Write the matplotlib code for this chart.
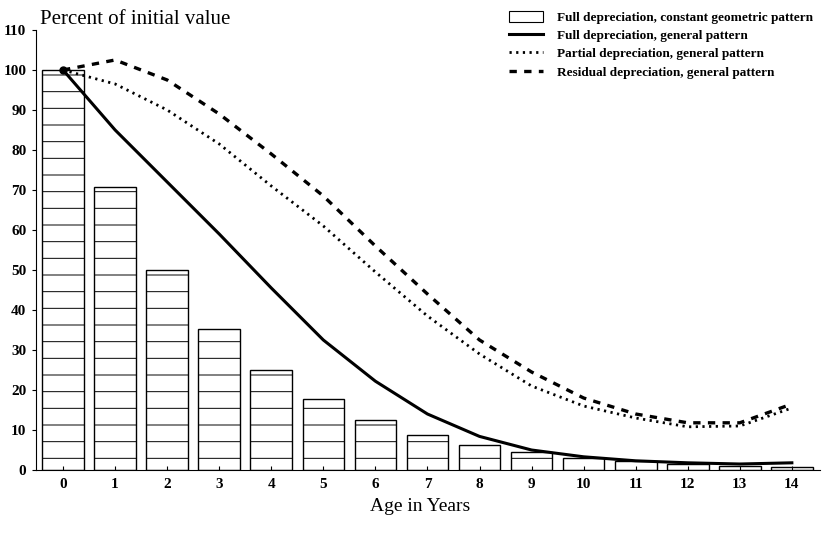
#!/usr/bin/env python3
"""Depreciation patterns: percent of initial value by age."""

import matplotlib.pyplot as plt
from matplotlib.lines import Line2D
import matplotlib.patches as mpatches

plt.rcParams["font.family"] = ["Liberation Serif", "DejaVu Serif"]
plt.rcParams["hatch.linewidth"] = 0.7

ages = list(range(15))

# Full depreciation, constant geometric pattern (bars)
geometric = [100, 70.7, 50, 35.3, 25, 17.7, 12.5, 8.8, 6.25, 4.4,
             3.1, 2.2, 1.56, 1.1, 0.78]

# Full depreciation, general pattern
full_general = [100, 85, 72, 59, 45.5, 32.5, 22.2, 14, 8.4, 5,
                3.3, 2.3, 1.8, 1.5, 1.8]

# Partial depreciation, general pattern
partial_general = [100, 96.5, 90, 81.5, 71, 61, 49.5, 38.5, 29, 21,
                   16, 13, 10.8, 11, 15.5]

# Residual depreciation, general pattern
residual_general = [100, 102.5, 97.5, 89, 79, 68.5, 56, 44, 32.5, 24.5,
                    18, 14, 11.8, 11.8, 16.5]

fig = plt.figure(figsize=(8.27, 5.45), dpi=100)
ax = fig.add_axes([0.0435, 0.1376, 0.948, 0.8074])

ax.bar(ages, geometric, width=0.8, facecolor="white", edgecolor="black",
       linewidth=1.0, hatch="-", zorder=1)

ax.plot(ages, full_general, color="black", linewidth=2.2, zorder=3)
ax.plot(ages, partial_general, color="black", linewidth=2.0,
        linestyle=(0, (0.8, 1.6)), zorder=3)
ax.plot(ages, residual_general, color="black", linewidth=2.4,
        linestyle=(0, (2.2, 2.2)), zorder=3)
ax.plot([0], [100], "o", color="black", markersize=5, zorder=4)

ax.set_xlim(-0.52, 14.54)
ax.set_ylim(0, 110)
ax.set_xticks(ages)
ax.set_yticks(range(0, 111, 10))
ax.spines["top"].set_visible(False)
ax.spines["right"].set_visible(False)
ax.tick_params(axis="x", direction="in", length=3, labelsize=11, pad=6)
ax.tick_params(axis="y", direction="out", length=3, labelsize=11, pad=4)
for lbl in ax.get_xticklabels() + ax.get_yticklabels():
    lbl.set_fontweight("bold")

fig.text(0.048, 0.965, "Percent of initial value", fontsize=15,
         va="center", ha="left")
fig.text(0.508, 0.07, "Age in Years", fontsize=14, va="center", ha="center")

handles = [
    mpatches.Patch(facecolor="white", edgecolor="black", linewidth=0.8),
    Line2D([], [], color="black", linewidth=2.2),
    Line2D([], [], color="black", linewidth=2.0, linestyle=(0, (0.8, 1.6))),
    Line2D([], [], color="black", linewidth=2.4, linestyle=(0, (2.2, 2.2))),
]
labels = [
    "Full depreciation, constant geometric pattern",
    "Full depreciation, general pattern",
    "Partial depreciation, general pattern",
    "Residual depreciation, general pattern",
]
fig.legend(handles, labels, loc="upper right", bbox_to_anchor=(0.997, 1.002),
           frameon=False, prop={"size": 9.5, "weight": "bold"},
           handlelength=2.6, handleheight=0.9, labelspacing=0.4,
           handletextpad=1.0)

plt.savefig("out.png", dpi=100)
